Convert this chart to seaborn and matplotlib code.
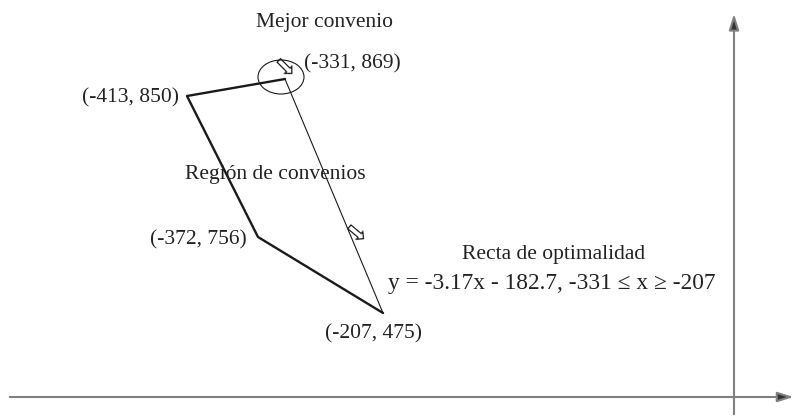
import numpy as np
import pandas as pd
import matplotlib
matplotlib.use('Agg')
import matplotlib.pyplot as plt
import matplotlib.transforms as mtransforms
from matplotlib.patches import Ellipse
import seaborn as sns

# ========== DATA ==========
vertex_x = [-331, -413, -372, -207]
vertex_y = [869, 850, 756, 475]
vertex_labels = ['(-331, 869)', '(-413, 850)', '(-372, 756)', '(-207, 475)']
best_x, best_y = -331, 869
optimal_line_x = [-331, -207]
optimal_line_y = [869, 475]
equation = 'y = -3.17x - 182.7, -331 ≤ x ≥ -207'

# ========== SCHEMATIC SCALE (diagram is not drawn to scale) ==========
# data value -> pixel position in the drawing
x_knots = [-700, -413, -372, -331, -207, 0, 60]
x_pix = [0, 187, 258, 285, 383, 734, 794]
y_knots = [-40, 0, 475, 756, 850, 869, 950]
y_pix = [0, 20, 104, 180, 321, 338, 417]

def fwd_x(v):
    return np.interp(v, x_knots, x_pix)

def inv_x(p):
    return np.interp(p, x_pix, x_knots)

def fwd_y(v):
    return np.interp(v, y_knots, y_pix)

def inv_y(p):
    return np.interp(p, y_pix, y_knots)

sns.set_theme(style='white')
plt.rcParams['font.family'] = ['Liberation Serif', 'DejaVu Serif']

fig = plt.figure(figsize=(7.94, 4.17), dpi=100)
ax = fig.add_axes([0, 0, 1, 1])
ax.set_xscale('function', functions=(fwd_x, inv_x))
ax.set_yscale('function', functions=(fwd_y, inv_y))
ax.set_xlim(-700, 60)
ax.set_ylim(-40, 950)
ax.axis('off')

# ========== AXES WITH ARROWS ==========
axis_col = '#808080'
arrow_kw = dict(arrowstyle='-|>,head_length=0.8,head_width=0.25',
                lw=1.5, fc='#333333', ec=axis_col)
ax.annotate('', xy=(1.003, 0), xytext=(7 / 794, 0),
            xycoords=('axes fraction', 'data'), textcoords=('axes fraction', 'data'),
            arrowprops=arrow_kw)
ax.annotate('', xy=(0, 1 - 11 / 417), xytext=(0, 0),
            xycoords=('data', 'axes fraction'), textcoords=('data', 'axes fraction'),
            arrowprops=arrow_kw)

# ========== REGION OF AGREEMENTS ==========
df_region = pd.DataFrame({'x': vertex_x, 'y': vertex_y})
sns.lineplot(data=df_region, x='x', y='y', sort=False, estimator=None,
             color='#1a1a1a', lw=1.7, ax=ax)
df_opt = pd.DataFrame({'x': optimal_line_x, 'y': optimal_line_y})
sns.lineplot(data=df_opt, x='x', y='y', sort=False, estimator=None,
             color='#1a1a1a', lw=0.8, ax=ax)

# circle round the best agreement
trans = fig.dpi_scale_trans + mtransforms.ScaledTranslation(best_x, best_y, ax.transData)
ax.add_patch(Ellipse((-0.04, 0.02), 0.46, 0.34, transform=trans,
                     fill=False, ec='#1a1a1a', lw=0.8))

# hollow direction arrows
ax.text(283 / 794, 1 - 68 / 417, '⇨', transform=ax.transAxes, family='DejaVu Sans',
        fontsize=19, rotation=-45, ha='center', va='center', color='#1a1a1a')
ax.text(354 / 794, 1 - 234 / 417, '⇨', transform=ax.transAxes, family='DejaVu Sans',
        fontsize=19, rotation=-40, ha='center', va='center', color='#1a1a1a')

# ========== LABELS ==========
fs = 15.5
txt_col = '#222222'
label_offsets = [(14, 11), (-6, -1), (-8, -2), (-7, -15)]
label_align = ['left', 'right', 'right', 'center']
for x, y, lab, off, ha in zip(vertex_x, vertex_y, vertex_labels, label_offsets, label_align):
    ax.annotate(lab, xy=(x, y), xytext=off, textcoords='offset points',
                ha=ha, va='center', fontsize=fs, color=txt_col)

ax.text(324 / 794, 1 - 22 / 417, 'Mejor convenio', transform=ax.transAxes,
        ha='center', va='center', fontsize=fs, color=txt_col)
ax.text(275 / 794, 1 - 174 / 417, 'Región de convenios', transform=ax.transAxes,
        ha='center', va='center', fontsize=fs, color=txt_col)
ax.text(554 / 794, 1 - 255 / 417, 'Recta de optimalidad', transform=ax.transAxes,
        ha='center', va='center', fontsize=fs, color=txt_col)
ax.text(552 / 794, 1 - 284 / 417, equation, transform=ax.transAxes,
        ha='center', va='center', fontsize=16.8, color=txt_col)

fig.savefig('out.png', dpi=100)
